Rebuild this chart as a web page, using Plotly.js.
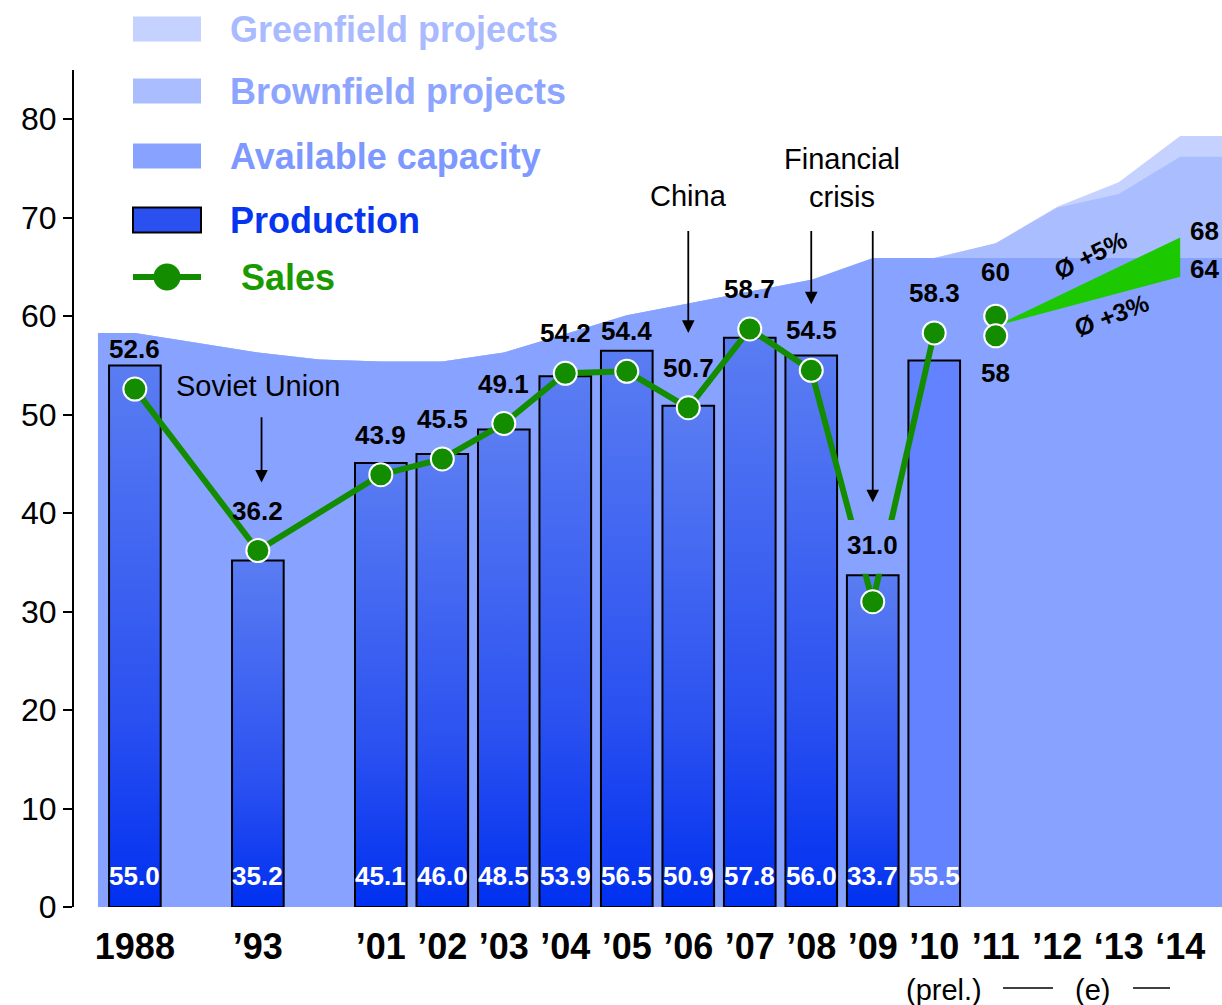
<!DOCTYPE html>
<html><head><meta charset="utf-8">
<script src="https://cdn.plot.ly/plotly-3.0.1.min.js"></script>
<style>html,body{margin:0;padding:0;background:#fff}#chart{width:1222px;height:1005px}</style>
</head><body><div id="chart"></div>
<script>
// ---------- data ----------
const timeline = ['1988', null, '’93', null, '’01','’02','’03','’04','’05','’06','’07','’08','’09','’10','’11','’12','‘13','‘14'];
const categories = timeline.filter(c => c !== null);
const productionYears = ['1988','’93','’01','’02','’03','’04','’05','’06','’07','’08','’09','’10'];
const production = [55.0,35.2,45.1,46.0,48.5,53.9,56.5,50.9,57.8,56.0,33.7,55.5];
const sales = [52.6,36.2,43.9,45.5,49.1,54.2,54.4,50.7,58.7,54.5,31.0,58.3];
const preliminaryYear = '’10';
const forecastYears = ['’11','‘14'];
const salesForecastHigh = [60, 68];
const salesForecastLow = [58, 64];
const capacitySlots = [-0.6,0,1,2,3,4,5,6,7,8,9,10,11,12,13,14,15,16,17,18];
const availableCapacity = [58.3,58.3,57.3,56.3,55.6,55.4,55.4,56.3,58.2,60.1,61.3,62.5,63.7,65.9,65.9,65.9,65.9,65.9,65.9,65.9];
const projectSlots = [13,14,15,16,17,18];
const brownfieldTop = [65.9,67.4,71.0,72.4,76.2,76.2];
const greenfieldTop = [65.9,67.4,71.1,73.6,78.3,78.3];

// ---------- helpers ----------
const pos = c => timeline.indexOf(c);
const FONT = 'Arial, "Liberation Sans", sans-serif';
const C = {
  avail: '#87A3FF', brown: '#AABEFF', green: '#C5D2FF',
  availTxt: '#7D99FF', brownTxt: '#8EA5FF', greenTxt: '#A9BAFF',
  prodTxt: '#0535F0', salesTxt: '#1A9A00',
  line: '#148C00', wedge: '#1CC800', prel: '#6282FF'
};
// plot box in pixels for layout decorations
const PL = 74, PW = 1148, PT = 70, PH = 837;
const px = X => (X - PL) / PW;
const py = Y => (PT + PH - Y) / PH;

const traces = [];
traces.push({type:'scatter', mode:'lines', x:capacitySlots.slice(0,13).concat(projectSlots),
  y:availableCapacity.slice(0,13).concat(greenfieldTop), fill:'tozeroy', fillcolor:C.green,
  line:{width:0, color:C.green}, hoverinfo:'skip', showlegend:false});
traces.push({type:'scatter', mode:'lines', x:capacitySlots.slice(0,13).concat(projectSlots),
  y:availableCapacity.slice(0,13).concat(brownfieldTop), fill:'tozeroy', fillcolor:C.brown,
  line:{width:0, color:C.brown}, hoverinfo:'skip', showlegend:false});
traces.push({type:'scatter', mode:'lines', x:capacitySlots, y:availableCapacity, fill:'tozeroy',
  fillcolor:C.avail, line:{width:0, color:C.avail}, hoverinfo:'skip', showlegend:false});

const HALF = 0.42;
productionYears.forEach((yr, i) => {
  const c = pos(yr), v = production[i];
  const t = {type:'scatter', mode:'lines', x:[c-HALF,c-HALF,c+HALF,c+HALF,c-HALF], y:[0,v,v,0,0],
    fill:'toself', fillcolor: yr === preliminaryYear ? C.prel : '#3055F0',
    line:{color:'#000', width:2}, hoverinfo:'skip', showlegend:false};
  if (yr !== preliminaryYear) {
    t.fillgradient = {type:'vertical', colorscale:[[0,'#0030F0'],[0.35,'#2A50F0'],[1,'#5A7DF2']]};
  }
  traces.push(t);
});

// growth wedge
const f0 = pos(forecastYears[0]), f1 = pos(forecastYears[1]);
traces.push({type:'scatter', mode:'lines', x:[f0, f1, f1, f0],
  y:[(salesForecastHigh[0]+salesForecastLow[0])/2, salesForecastHigh[1], salesForecastLow[1], (salesForecastHigh[0]+salesForecastLow[0])/2],
  fill:'toself', fillcolor:C.wedge, line:{width:0, color:C.wedge}, hoverinfo:'skip', showlegend:false});

// sales line
traces.push({type:'scatter', mode:'lines+markers', x:productionYears.map(pos), y:sales,
  line:{color:C.line, width:6}, marker:{size:23, color:C.line, line:{color:'#fff', width:2}},
  hoverinfo:'skip', showlegend:false});
traces.push({type:'scatter', mode:'markers', x:[f0, f0], y:[salesForecastHigh[0], salesForecastLow[0]],
  marker:{size:23, color:C.line, line:{color:'#fff', width:2}}, hoverinfo:'skip', showlegend:false});

// ---------- annotations ----------
const ann = [];
const minIdx = sales.indexOf(Math.min(...sales));
sales.forEach((v, i) => {
  ann.push({x:pos(productionYears[i]), y:v, xref:'x', yref:'y', text:'<b>'+v.toFixed(1)+'</b>',
    showarrow:false, yshift: i === minIdx ? 57 : 40, font:{family:FONT, size:26, color:'#000'}});
});
production.forEach((v, i) => {
  ann.push({x:pos(productionYears[i]), y:0, xref:'x', yref:'y', text:'<b>'+v.toFixed(1)+'</b>',
    showarrow:false, yshift:31, font:{family:FONT, size:26, color:'#fff'}});
});
ann.push({x:f0, y:salesForecastHigh[0], xref:'x', yref:'y', text:'<b>'+salesForecastHigh[0]+'</b>', showarrow:false, yshift:44, font:{family:FONT,size:26,color:'#000'}});
ann.push({x:f0, y:salesForecastLow[0], xref:'x', yref:'y', text:'<b>'+salesForecastLow[0]+'</b>', showarrow:false, yshift:-37, font:{family:FONT,size:26,color:'#000'}});
ann.push({x:f1, y:salesForecastHigh[1], xref:'x', yref:'y', text:'<b>'+salesForecastHigh[1]+'</b>', showarrow:false, xanchor:'left', xshift:8, yshift:6, font:{family:FONT,size:26,color:'#000'}});
ann.push({x:f1, y:salesForecastLow[1], xref:'x', yref:'y', text:'<b>'+salesForecastLow[1]+'</b>', showarrow:false, xanchor:'left', xshift:8, yshift:8, font:{family:FONT,size:26,color:'#000'}});
ann.push({x:15.54, y:66.2, xref:'x', yref:'y', text:'<b>Ø +5%</b>', showarrow:false, textangle:-26, font:{family:FONT,size:25,color:'#000'}});
ann.push({x:15.89, y:60.1, xref:'x', yref:'y', text:'<b>Ø +3%</b>', showarrow:false, textangle:-21, font:{family:FONT,size:25,color:'#000'}});

// event notes + arrows
const notes = [
  {text:'Soviet Union', x:pos('’93'), y:52.9},
  {text:'China', x:pos('’06'), y:72.2},
  {text:'Financial<br>crisis', x:(pos('’08')+pos('’09'))/2, y:74.0}
];
notes.forEach(n => ann.push({x:n.x, y:n.y, xref:'x', yref:'y', text:n.text, showarrow:false,
  font:{family:FONT, size:29, color:'#000'}}));
const arrows = [
  {x:pos('’93')+0.06, head:43.1, tail:49.9},
  {x:pos('’06'), head:58.3, tail:68.8},
  {x:pos('’08'), head:61.2, tail:68.8},
  {x:pos('’09'), head:41.1, tail:68.8}
];
arrows.forEach(a => ann.push({x:a.x, y:a.head, ax:a.x, ay:a.tail, xref:'x', yref:'y', axref:'x', ayref:'y',
  text:'', showarrow:true, arrowhead:2, arrowsize:1.4, arrowwidth:1.8, arrowcolor:'#000', standoff:0, startstandoff:0}));

// legend (custom)
const legend = [
  {label:'Greenfield projects', color:C.green, txt:C.greenTxt, Y:29},
  {label:'Brownfield projects', color:C.brown, txt:C.brownTxt, Y:91},
  {label:'Available capacity', color:C.avail, txt:C.availTxt, Y:156},
  {label:'Production', color:'#2A50F0', txt:C.prodTxt, Y:220, border:true},
];
const shapes = [];
legend.forEach(l => {
  shapes.push({type:'rect', xref:'paper', yref:'paper', x0:px(133), x1:px(201), y0:py(l.Y-12.5), y1:py(l.Y+12.5),
    fillcolor:l.color, line:{width: l.border ? 2 : 0, color:'#000'}});
  ann.push({xref:'paper', yref:'paper', x:px(228), y:py(l.Y), xanchor:'left', yanchor:'middle',
    text:'<b>'+l.label+'</b>', showarrow:false, font:{family:FONT, size:36, color:l.txt}});
});
shapes.push({type:'line', xref:'paper', yref:'paper', x0:px(133), x1:px(201), y0:py(277), y1:py(277), line:{color:C.line, width:6}});
shapes.push({type:'circle', xref:'paper', yref:'paper', x0:px(153.5), x1:px(180.5), y0:py(290.5), y1:py(263.5), fillcolor:C.line, line:{width:0}});
ann.push({xref:'paper', yref:'paper', x:px(239), y:py(277), xanchor:'left', yanchor:'middle',
  text:'<b>Sales</b>', showarrow:false, font:{family:FONT, size:36, color:C.salesTxt}});

// gap in the sales line around the 2009 label
shapes.push({type:'rect', xref:'x', yref:'y', layer:'above', x0:pos('’09')-0.45, x1:pos('’09')+0.45,
  y0:production[productionYears.indexOf('’09')]+0.15, y1:39.3, fillcolor:C.avail, line:{width:0}});

// footer
ann.push({xref:'paper', yref:'paper', x:px(944), y:py(990), xanchor:'center', yanchor:'middle', text:'(prel.)', showarrow:false, font:{family:FONT,size:29,color:'#000'}});
ann.push({xref:'paper', yref:'paper', x:px(1092), y:py(990), xanchor:'center', yanchor:'middle', text:'(e)', showarrow:false, font:{family:FONT,size:29,color:'#000'}});
shapes.push({type:'line', xref:'paper', yref:'paper', x0:px(1003), x1:px(1053), y0:py(988), y1:py(988), line:{color:'#000', width:1.5}});
shapes.push({type:'line', xref:'paper', yref:'paper', x0:px(1133), x1:px(1170), y0:py(988), y1:py(988), line:{color:'#000', width:1.5}});

const layout = {
  width:1222, height:1005, margin:{l:PL, r:0, t:PT, b:1005-PT-PH, pad:0},
  paper_bgcolor:'#fff', plot_bgcolor:'rgba(0,0,0,0)', showlegend:false,
  xaxis:{range:[-0.99, 17.68], showgrid:false, zeroline:false, showline:false, ticks:'',
    tickvals:categories.map(pos), ticktext:categories.map(c => '<b>'+c+'</b>'), tickangle:0,
    ticklabelstandoff:15,
    tickfont:{family:FONT, size:36, color:'#000'}, fixedrange:true},
  yaxis:{range:[0,85], showgrid:false, zeroline:false, showline:true, linecolor:'#000', linewidth:2,
    ticks:'outside', ticklen:9, tickwidth:2, tickcolor:'#000', tickvals:[0,10,20,30,40,50,60,70,80],
    tickfont:{family:FONT, size:32, color:'#000'}, fixedrange:true},
  annotations:ann, shapes:shapes
};
Plotly.newPlot('chart', traces, layout, {displayModeBar:false, staticPlot:true});
</script>
</body></html>
